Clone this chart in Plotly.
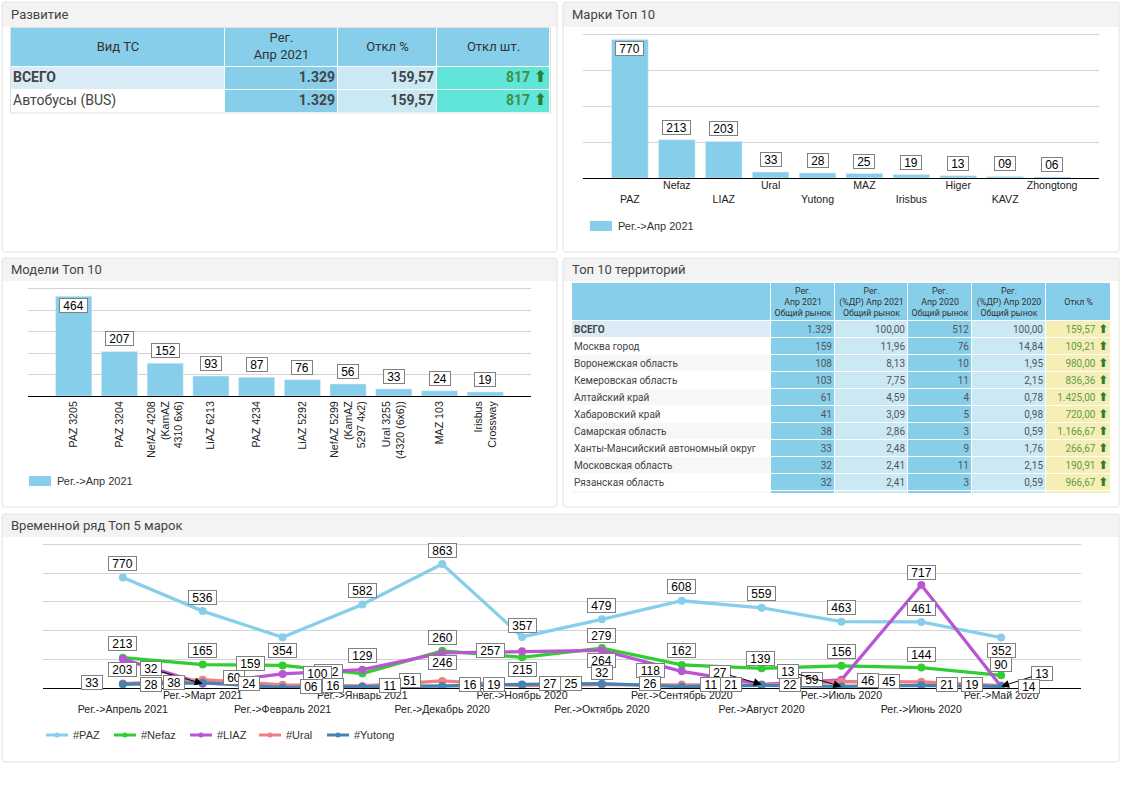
import plotly.graph_objects as go

W = 1122
H = 793

# Развитие table
dev_headers = ["Вид ТС", "Рег.<br>Апр 2021", "Откл %", "Откл шт."]
dev_types = ["<b>ВСЕГО</b>", "Автобусы (BUS)"]
dev_reg = ["<b>1.329</b>", "<b>1.329</b>"]
dev_pct = ["<b>159,57</b>", "<b>159,57</b>"]
dev_cnt = ["<b>817</b>", "<b>817</b>"]

# Марки Топ 10
marks = ["PAZ", "Nefaz", "LIAZ", "Ural", "Yutong", "MAZ", "Irisbus", "Higer", "KAVZ", "Zhongtong"]
marks_values = [770, 213, 203, 33, 28, 25, 19, 13, 9, 6]

# Модели Топ 10
models = ["PAZ 3205", "PAZ 3204", "NefAZ 4208<br>(KamAZ<br>4310 6x6)", "LiAZ 6213", "PAZ 4234", "LiAZ 5292",
          "NefAZ 5299<br>(KamAZ<br>5297 4x2)", "Ural 3255<br>(4320 (6x6))", "MAZ 103", "Irisbus<br>Crossway"]
models_values = [464, 207, 152, 93, 87, 76, 56, 33, 24, 19]

# Топ 10 территорий
terr_headers = ["", "Рег.<br>Апр 2021<br>Общий рынок", "Рег.<br>(%ДР) Апр 2021<br>Общий рынок",
                "Рег.<br>Апр 2020<br>Общий рынок", "Рег.<br>(%ДР) Апр 2020<br>Общий рынок", "Откл %"]
terr_names = ["<b>ВСЕГО</b>", "Москва город", "Воронежская область", "Кемеровская область", "Алтайский край",
              "Хабаровский край", "Самарская область", "Ханты-Мансийский автономный округ", "Московская область",
              "Рязанская область"]
terr_reg21 = ["1.329", "159", "108", "103", "61", "41", "38", "33", "32", "32"]
terr_dr21 = ["100,00", "11,96", "8,13", "7,75", "4,59", "3,09", "2,86", "2,48", "2,41", "2,41"]
terr_reg20 = ["512", "76", "10", "11", "4", "5", "3", "9", "11", "3"]
terr_dr20 = ["100,00", "14,84", "1,95", "2,15", "0,78", "0,98", "0,59", "1,76", "2,15", "0,59"]
terr_dev = ["159,57", "109,21", "980,00", "836,36", "1.425,00", "720,00", "1.166,67", "266,67", "190,91", "966,67"]

# Временной ряд
months = ["Рег.->Апрель 2021", "Рег.->Март 2021", "Рег.->Февраль 2021", "Рег.->Январь 2021", "Рег.->Декабрь 2020",
          "Рег.->Ноябрь 2020", "Рег.->Октябрь 2020", "Рег.->Сентябрь 2020", "Рег.->Август 2020", "Рег.->Июль 2020",
          "Рег.->Июнь 2020", "Рег.->Май 2020"]
paz = [770, 536, 354, 582, 863, 357, 479, 608, 559, 463, 461, 352]
nefaz = [213, 165, 159, 102, 260, 215, 279, 162, 139, 156, 144, 90]
liaz = [203, 32, 100, 129, 246, 257, 264, 118, 27, 59, 717, 13]
ural = [33, 60, 24, 16, 51, 19, 25, 26, 22, 46, 45, 19]
yutong = [28, 38, 6, 11, 16, 27, 32, 11, 21, 13, 21, 14]

# where the data labels sit relative to their points, in pixels
paz_off = [(0, -14), (0, -14), (0, 13), (0, -14), (0, -14), (0, -11), (0, -14), (0, -14), (0, -14), (0, -14), (0, -13), (0, 13)]
nefaz_off = [(0, -14), (0, -14), (-32, -2), (-34, -2), (0, -13), (0, 12), (0, -13), (0, -14), (-1, -10), (0, -14), (0, -13), (0, -11)]
liaz_off = [(0, 10), (-52, -15), (35, 0), (0, -14), (0, 10), (-32, -1), (0, 10), (-31, -1), (-42, -12), (-29, 0), (0, -13), (41, -13)]
ural_off = [(-31, -1), (31, -2), (-34, -1), (-29, 0), (-32, 0), (-28, -1), (-31, -1), (-32, -1), (28, -1), (27, -1), (-32, 0), (-29, -1)]
yutong_off = [(28, 0), (-29, 0), (28, -1), (28, -1), (28, -1), (28, -1), (0, -11), (29, -2), (-31, -1), (-53, -15), (26, -1), (28, 0)]

series = [
    ("#PAZ", paz, paz_off, "#87CEEB", []),
    ("#Nefaz", nefaz, nefaz_off, "#32CD32", []),
    ("#LIAZ", liaz, liaz_off, "#BA55D3", [1, 8, 11]),
    ("#Ural", ural, ural_off, "#F08080", []),
    ("#Yutong", yutong, yutong_off, "#4682B4", [9]),
]

SKY = "#87CEEB"
GRID = "#D3D3D3"
LIGHT = "#CBE8F5"
ROW = "#D9ECF5"
UP_GREEN = "#2E7D32"
CHART_FONT = "Liberation Sans"
UI_FONT = "Roboto"


def px_x(x):
    return x / W


def px_y(y):
    return 1 - y / H


def up_arrow(text, size):
    return f"{text} <span style=\"color:{UP_GREEN};font-family:'DejaVu Sans';font-weight:bold;font-size:{size}px\">⬆</span>"


def panel_path(x0, y0, x1, y1, r=3):
    return (f"M {px_x(x0 + r)} {px_y(y0)} L {px_x(x1 - r)} {px_y(y0)} Q {px_x(x1)} {px_y(y0)} {px_x(x1)} {px_y(y0 + r)} "
            f"L {px_x(x1)} {px_y(y1 - r)} Q {px_x(x1)} {px_y(y1)} {px_x(x1 - r)} {px_y(y1)} "
            f"L {px_x(x0 + r)} {px_y(y1)} Q {px_x(x0)} {px_y(y1)} {px_x(x0)} {px_y(y1 - r)} "
            f"L {px_x(x0)} {px_y(y0 + r)} Q {px_x(x0)} {px_y(y0)} {px_x(x0 + r)} {px_y(y0)} Z")


fig = go.Figure()
shapes = []
annotations = []
table_axes = {}

# panels
panels = [
    ("Развитие", 2, 2, 557, 252, 27),
    ("Марки Топ 10", 563, 2, 1119, 252, 27),
    ("Модели Топ 10", 2, 258, 557, 507, 281),
    ("Топ 10 территорий", 563, 258, 1119, 507, 281),
    ("Временной ряд Топ 5 марок", 2, 514, 1119, 762, 537),
]
for title, x0, y0, x1, y1, head in panels:
    shapes.append(dict(type="rect", xref="paper", yref="paper", x0=px_x(x0), x1=px_x(x1), y0=px_y(y0), y1=px_y(head),
                       fillcolor="#F3F3F3", line_width=0, layer="below"))
    shapes.append(dict(type="path", xref="paper", yref="paper", path=panel_path(x0, y0, x1, y1),
                       line=dict(color="#E2E2E2", width=1), layer="below"))
    annotations.append(dict(text=title, xref="paper", yref="paper", x=px_x(x0 + 7), y=px_y((y0 + head) / 2),
                            xanchor="left", yanchor="middle", showarrow=False,
                            font=dict(family=UI_FONT, size=13, color="#444444")))


# go.Table keeps at least 16px of padding in a row, too tall here, so the cells are a heatmap with text on top
def add_table(n, left, top, col_w, row_h, columns, fills, aligns, colors, sizes, text_dy=0):
    xa, ya = f"x{n}", f"y{n}"
    x_edges = [0]
    for w in col_w:
        x_edges.append(x_edges[-1] + w)
    y_edges = [0]
    for h in row_h:
        y_edges.append(y_edges[-1] + h)

    palette = sorted({c for col in fills for c in col})
    scale = []
    for i, c in enumerate(palette):
        scale += [[i / len(palette), c], [(i + 1) / len(palette), c]]
    z = [[palette.index(fills[c][r]) + 0.5 for c in range(len(col_w))] for r in range(len(row_h))]
    fig.add_trace(go.Heatmap(x=x_edges, y=y_edges, z=z, zmin=0, zmax=len(palette), colorscale=scale, showscale=False,
                             xgap=1, ygap=1, hoverinfo="skip", xaxis=xa, yaxis=ya))

    tx, ty, texts, pos, text_colors, text_sizes = [], [], [], [], [], []
    for c, col in enumerate(columns):
        for r, t in enumerate(col):
            if aligns[c][r] == "left":
                tx.append(x_edges[c] + 2)
                pos.append("middle right")
            elif aligns[c][r] == "right":
                tx.append(x_edges[c + 1] - 3)
                pos.append("middle left")
            else:
                tx.append((x_edges[c] + x_edges[c + 1]) / 2)
                pos.append("middle center")
            ty.append((y_edges[r] + y_edges[r + 1]) / 2 + text_dy)
            texts.append(t)
            text_colors.append(colors[c][r])
            text_sizes.append(sizes[c][r])
    fig.add_trace(go.Scatter(x=tx, y=ty, text=texts, mode="text", textposition=pos, hoverinfo="skip",
                             textfont=dict(family=UI_FONT, color=text_colors, size=text_sizes),
                             xaxis=xa, yaxis=ya, showlegend=False))

    table_axes[f"xaxis{n}"] = dict(domain=[px_x(left), px_x(left + x_edges[-1])], range=[0, x_edges[-1]], visible=False,
                                   anchor=ya, fixedrange=True)
    table_axes[f"yaxis{n}"] = dict(domain=[px_y(top + y_edges[-1]), px_y(top)], range=[y_edges[-1], 0], visible=False,
                                   anchor=xa, fixedrange=True)


# top left table
dev_columns = [
    [dev_headers[0]] + dev_types,
    [dev_headers[1]] + dev_reg,
    [dev_headers[2]] + dev_pct,
    [dev_headers[3]] + [up_arrow(v, 16) for v in dev_cnt],
]
add_table(
    4, 11, 28, [214, 113, 99, 113], [39, 23, 23], dev_columns,
    fills=[[SKY, ROW, "white"], [SKY] * 3, [SKY, LIGHT, LIGHT], [SKY, "#60E6D8", "#60E6D8"]],
    aligns=[["center", "left", "left"]] + [["center", "right", "right"]] * 3,
    colors=[["#333333", "#444444", "#444444"]] * 3 + [["#333333", "#3F8F48", "#3F8F48"]],
    sizes=[[13, 14, 14]] * 4,
)
shapes.append(dict(type="rect", xref="paper", yref="paper", x0=px_x(10.5), x1=px_x(550.5), y0=px_y(113), y1=px_y(27.5),
                   line=dict(color="#E0E0E0", width=1)))

# right table, the eleventh row is scrolled away in the picture and only its top shows
n_rows = len(terr_names)
name_fill = [SKY, ROW] + ["white" if i % 2 == 0 else "#F7F7F7" for i in range(n_rows)]
terr_columns = [
    [terr_headers[0]] + terr_names + [""],
    [terr_headers[1]] + terr_reg21 + [""],
    [terr_headers[2]] + terr_dr21 + [""],
    [terr_headers[3]] + terr_reg20 + [""],
    [terr_headers[4]] + terr_dr20 + [""],
    [terr_headers[5]] + [up_arrow(v, 12) for v in terr_dev] + [""],
]
add_table(
    5, 572, 283, [199, 64, 73, 64, 74, 65], [38] + [17] * n_rows + [3], terr_columns,
    fills=[name_fill, [SKY] * (n_rows + 2), [SKY] + [LIGHT] * (n_rows + 1), [SKY] * (n_rows + 2),
           [SKY] + [LIGHT] * (n_rows + 1), [SKY] + ["#F6EFB5"] * (n_rows + 1)],
    aligns=[["center"] + ["left"] * (n_rows + 1)] + [["center"] + ["right"] * (n_rows + 1)] * 5,
    colors=[["#333333"] + ["#444444"] * (n_rows + 1)] + [["#333333"] + ["#555555"] * (n_rows + 1)] * 4
           + [["#333333"] + ["#5E9B50"] * (n_rows + 1)],
    sizes=[[8.8] + [10] * (n_rows + 1)] * 6,
    text_dy=0.8,
)

# bars
fig.add_trace(go.Bar(x=marks, y=marks_values, name="Рег.->Апр 2021", marker_color=SKY, width=0.78,
                     xaxis="x", yaxis="y", showlegend=False))
fig.add_trace(go.Bar(x=models, y=models_values, name="Рег.->Апр 2021", marker_color=SKY, width=0.79,
                     xaxis="x2", yaxis="y2", showlegend=False))

box = dict(showarrow=False, bgcolor="white", bordercolor="#808080", borderwidth=1, borderpad=0, height=13,
           font=dict(family=CHART_FONT, size=12, color="black"), align="center", xanchor="center", yanchor="middle")


def box_width(label):
    return 27 if len(label) > 2 else 20


for xa, ya, names, values in [("x", "y", marks, marks_values), ("x2", "y2", models, models_values)]:
    for name, v in zip(names, values):
        label = f"{v:02d}"
        shift = -9 if v == max(values) else 12.5
        annotations.append(dict(box, text=label, x=name, y=v, xref=xa, yref=ya, yshift=shift, width=box_width(label)))

# lines
for name, values, offsets, color, with_arrow in series:
    fig.add_trace(go.Scatter(x=months, y=values, name=name, mode="lines+markers", xaxis="x3", yaxis="y3",
                             line=dict(color=color, width=3.3), marker=dict(color=color, size=8), showlegend=False))

for name, values, offsets, color, with_arrow in series:
    for i, v in enumerate(values):
        label = f"{v:02d}"
        dx, dy = offsets[i]
        item = dict(box, text=label, x=months[i], y=v, xref="x3", yref="y3", width=box_width(label))
        if i in with_arrow:
            item.update(showarrow=True, ax=dx, ay=dy, arrowhead=2, arrowsize=1.6, arrowwidth=1, arrowcolor="black",
                        standoff=0)
        else:
            item.update(xshift=dx, yshift=-dy)
        annotations.append(item)


# hand drawn legends, the swatches are narrower than what plotly legends allow
def bar_legend(x, y, text):
    shapes.append(dict(type="rect", xref="paper", yref="paper", x0=px_x(x), x1=px_x(x + 22), y0=px_y(y - 5), y1=px_y(y + 5),
                       fillcolor=SKY, line_width=0))
    annotations.append(dict(text=text, xref="paper", yref="paper", x=px_x(x + 26), y=px_y(y), xanchor="left", yanchor="middle",
                            showarrow=False, font=dict(family=CHART_FONT, size=11, color="#333333")))


bar_legend(590, 226, "Рег.->Апр 2021")
bar_legend(29, 481, "Рег.->Апр 2021")

legend_x = [46, 114, 190, 259, 327]
for (name, values, offsets, color, with_arrow), lx in zip(series, legend_x):
    shapes.append(dict(type="line", xref="paper", yref="paper", x0=px_x(lx), x1=px_x(lx + 22), y0=px_y(735), y1=px_y(735),
                       line=dict(color=color, width=3)))
    shapes.append(dict(type="circle", xref="paper", yref="paper", x0=px_x(lx + 8.5), x1=px_x(lx + 13.5), y0=px_y(732.5), y1=px_y(737.5),
                       fillcolor=color, line_width=0))
    annotations.append(dict(text=name, xref="paper", yref="paper", x=px_x(lx + 25), y=px_y(735), xanchor="left", yanchor="middle",
                            showarrow=False, font=dict(family=CHART_FONT, size=11, color="#333333")))

x_common = dict(type="category", showgrid=False, zeroline=False, showline=True, linecolor="black", linewidth=1,
                ticks="", tickangle=0, tickmode="array", tickfont=dict(family=CHART_FONT, size=10.6, color="#222222"))
y_common = dict(showticklabels=False, showline=False, zeroline=False, showgrid=True, gridcolor=GRID, gridwidth=1, ticks="",
                tick0=0)

# every other label goes on the second row
marks_ticks = [m if i % 2 else "&nbsp;<br>" + m for i, m in enumerate(marks)]
month_ticks = [m if i % 2 else "&nbsp;<br>" + m for i, m in enumerate(months)]

# y ranges run 1% past the top gridline, plotly drops a gridline sitting right on the end of the axis
fig.update_layout(
    width=W,
    height=H,
    autosize=False,
    margin=dict(l=0, r=0, t=0, b=0),
    paper_bgcolor="white",
    plot_bgcolor="white",
    showlegend=False,
    bargap=0.2,
    shapes=shapes,
    annotations=annotations,
    xaxis=dict(x_common, domain=[px_x(583), px_x(1099)], anchor="y", range=[-1, 10], tickvals=marks, ticktext=marks_ticks,
               categoryorder="array", categoryarray=marks, ticklabelstandoff=-3),
    yaxis=dict(y_common, domain=[px_y(178), px_y(178 - 144 * 1.01)], anchor="x", range=[0, 808], dtick=200),
    xaxis2=dict(x_common, domain=[px_x(28), px_x(531)], anchor="y2", range=[-1, 10], tickvals=models, ticktext=models,
                tickangle=-90, categoryorder="array", categoryarray=models),
    yaxis2=dict(y_common, domain=[px_y(396), px_y(396 - 107.5 * 1.01)], anchor="x2", range=[0, 505], dtick=100),
    xaxis3=dict(x_common, domain=[px_x(43), px_x(1081)], anchor="y3", range=[-1, 12], tickvals=months, ticktext=month_ticks,
                categoryorder="array", categoryarray=months, ticklabelstandoff=-3),
    yaxis3=dict(y_common, domain=[px_y(688.3), px_y(688.3 - 144 * 1.01)], anchor="x3", range=[0, 1010], dtick=200),
    **table_axes,
)

fig.write_html("out.html", config={"displayModeBar": False},
               post_script="document.body.style.margin='0';document.body.style.overflow='hidden';")
